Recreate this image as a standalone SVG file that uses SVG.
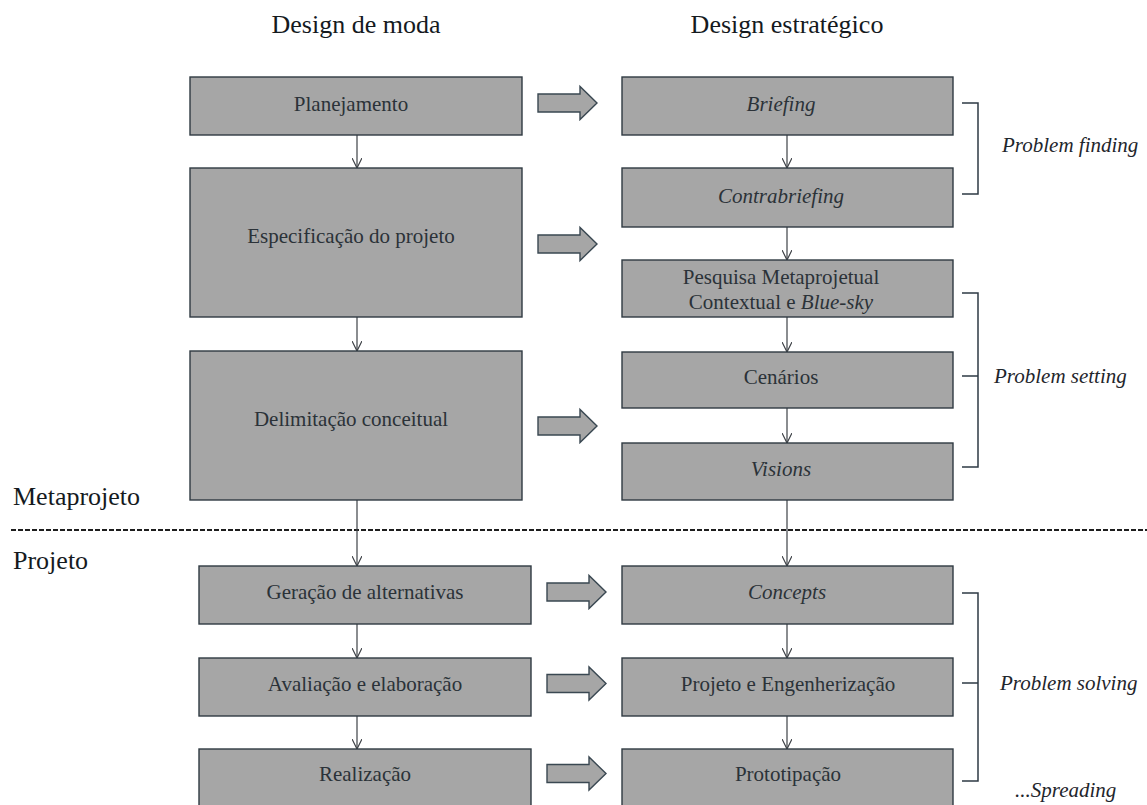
<svg xmlns="http://www.w3.org/2000/svg" width="1147" height="805" viewBox="0 0 1147 805">
  <style>
    .box { fill: #a6a6a6; stroke: #303a42; stroke-width: 1.4; }
    .lbl { font-family: "Liberation Serif", "Times New Roman", serif; font-size: 21px; fill: #2b3238; text-anchor: middle; }
    .it { font-style: italic; }
    .title { font-family: "Liberation Serif", "Times New Roman", serif; font-size: 26px; fill: #151a1e; }
    .side { font-family: "Liberation Serif", "Times New Roman", serif; font-size: 21px; font-style: italic; fill: #1f262c; }
    .flow { stroke: #3d4146; stroke-width: 1.2; fill: none; marker-end: url(#chev); }
    .block { fill: #a6a6a6; stroke: #3a4852; stroke-width: 1.4; stroke-linejoin: miter; }
    .brace { stroke: #2e3a44; stroke-width: 1.5; fill: none; }
    .phase { stroke: #1e1e1e; stroke-width: 2; stroke-dasharray: 5 2; }
  </style>
  <defs>
    <marker id="chev" viewBox="0 0 10 10" refX="10" refY="5" markerWidth="10" markerHeight="10" markerUnits="userSpaceOnUse" orient="auto">
      <path d="M0,0 L10,5 L0,10" fill="none" stroke="#3d4146" stroke-width="1.2"/>
    </marker>
    <!-- wide hollow arrow, left-middle at origin -->
    <path id="bigArrow" d="M0,-9 H42 V-16.5 L59,0 L42,16.5 V9 H0 Z"/>
  </defs>

  <rect width="1147" height="805" fill="#ffffff"/>

  <!-- column headings -->
  <text class="title" x="356" y="33" text-anchor="middle">Design de moda</text>
  <text class="title" x="787" y="33" text-anchor="middle">Design estratégico</text>

  <!-- phase labels and divider -->
  <text class="title" x="13" y="505">Metaprojeto</text>
  <text class="title" x="13" y="569">Projeto</text>
  <line class="phase" x1="11" y1="530" x2="1147" y2="530"/>

  <!-- connectors -->
  <g id="connectors">
    <line class="flow" x1="357" y1="135" x2="357" y2="168"/>
    <line class="flow" x1="357" y1="317" x2="357" y2="351"/>
    <line class="flow" x1="357" y1="500" x2="357" y2="566"/>
    <line class="flow" x1="357" y1="624" x2="357" y2="658"/>
    <line class="flow" x1="357" y1="716" x2="357" y2="749"/>

    <line class="flow" x1="787" y1="135" x2="787" y2="168"/>
    <line class="flow" x1="787" y1="227" x2="787" y2="260"/>
    <line class="flow" x1="787" y1="317" x2="787" y2="352"/>
    <line class="flow" x1="787" y1="408" x2="787" y2="443"/>
    <line class="flow" x1="787" y1="500" x2="787" y2="566"/>
    <line class="flow" x1="787" y1="624" x2="787" y2="658"/>
    <line class="flow" x1="787" y1="716" x2="787" y2="749"/>

    <use href="#bigArrow" class="block" transform="translate(538,103)"/>
    <use href="#bigArrow" class="block" transform="translate(538,244)"/>
    <use href="#bigArrow" class="block" transform="translate(538,426)"/>
    <use href="#bigArrow" class="block" transform="translate(547,592)"/>
    <use href="#bigArrow" class="block" transform="translate(547,683.5)"/>
    <use href="#bigArrow" class="block" transform="translate(547,773.5)"/>
  </g>

  <!-- fashion design column -->
  <g id="planejamento">
    <rect class="box" x="190" y="77" width="332" height="58"/>
    <text class="lbl" x="351" y="111">Planejamento</text>
  </g>
  <g id="especificacao">
    <rect class="box" x="190" y="168" width="332" height="149"/>
    <text class="lbl" x="351" y="243">Especificação do projeto</text>
  </g>
  <g id="delimitacao">
    <rect class="box" x="190" y="351" width="332" height="149"/>
    <text class="lbl" x="351" y="426">Delimitação conceitual</text>
  </g>
  <g id="geracao">
    <rect class="box" x="199" y="566" width="332" height="58"/>
    <text class="lbl" x="365" y="599">Geração de alternativas</text>
  </g>
  <g id="avaliacao">
    <rect class="box" x="199" y="658" width="332" height="58"/>
    <text class="lbl" x="365" y="691">Avaliação e elaboração</text>
  </g>
  <g id="realizacao">
    <rect class="box" x="199" y="749" width="332" height="60"/>
    <text class="lbl" x="365" y="781">Realização</text>
  </g>

  <!-- strategic design column -->
  <g id="briefing">
    <rect class="box" x="622" y="77" width="331" height="58"/>
    <text class="lbl it" x="781" y="111">Briefing</text>
  </g>
  <g id="contrabriefing">
    <rect class="box" x="622" y="168" width="331" height="59"/>
    <text class="lbl it" x="781" y="203">Contrabriefing</text>
  </g>
  <g id="pesquisa">
    <rect class="box" x="622" y="260" width="331" height="57"/>
    <text class="lbl" x="781" y="284">Pesquisa Metaprojetual</text>
    <text class="lbl" x="781" y="309">Contextual e <tspan class="it">Blue-sky</tspan></text>
  </g>
  <g id="cenarios">
    <rect class="box" x="622" y="352" width="331" height="56"/>
    <text class="lbl" x="781" y="384">Cenários</text>
  </g>
  <g id="visions">
    <rect class="box" x="622" y="443" width="331" height="57"/>
    <text class="lbl it" x="781" y="476">Visions</text>
  </g>
  <g id="concepts">
    <rect class="box" x="622" y="566" width="331" height="58"/>
    <text class="lbl it" x="787" y="599">Concepts</text>
  </g>
  <g id="engenherizacao">
    <rect class="box" x="622" y="658" width="331" height="58"/>
    <text class="lbl" x="788" y="691">Projeto e Engenherização</text>
  </g>
  <g id="prototipacao">
    <rect class="box" x="622" y="749" width="331" height="60"/>
    <text class="lbl" x="788" y="781">Prototipação</text>
  </g>

  <!-- stage brackets -->
  <g id="stages">
    <path class="brace" d="M962,103 H978 V194 H962"/>
    <text class="side" x="1002" y="152">Problem finding</text>

    <path class="brace" d="M962,293 H978 V467 H962 M962,376 H978"/>
    <text class="side" x="994" y="383">Problem setting</text>

    <path class="brace" d="M962,593 H978 V781 H962 M962,683 H978"/>
    <text class="side" x="1000" y="690">Problem solving</text>

    <text class="side" x="1015" y="797">...Spreading</text>
  </g>
</svg>
